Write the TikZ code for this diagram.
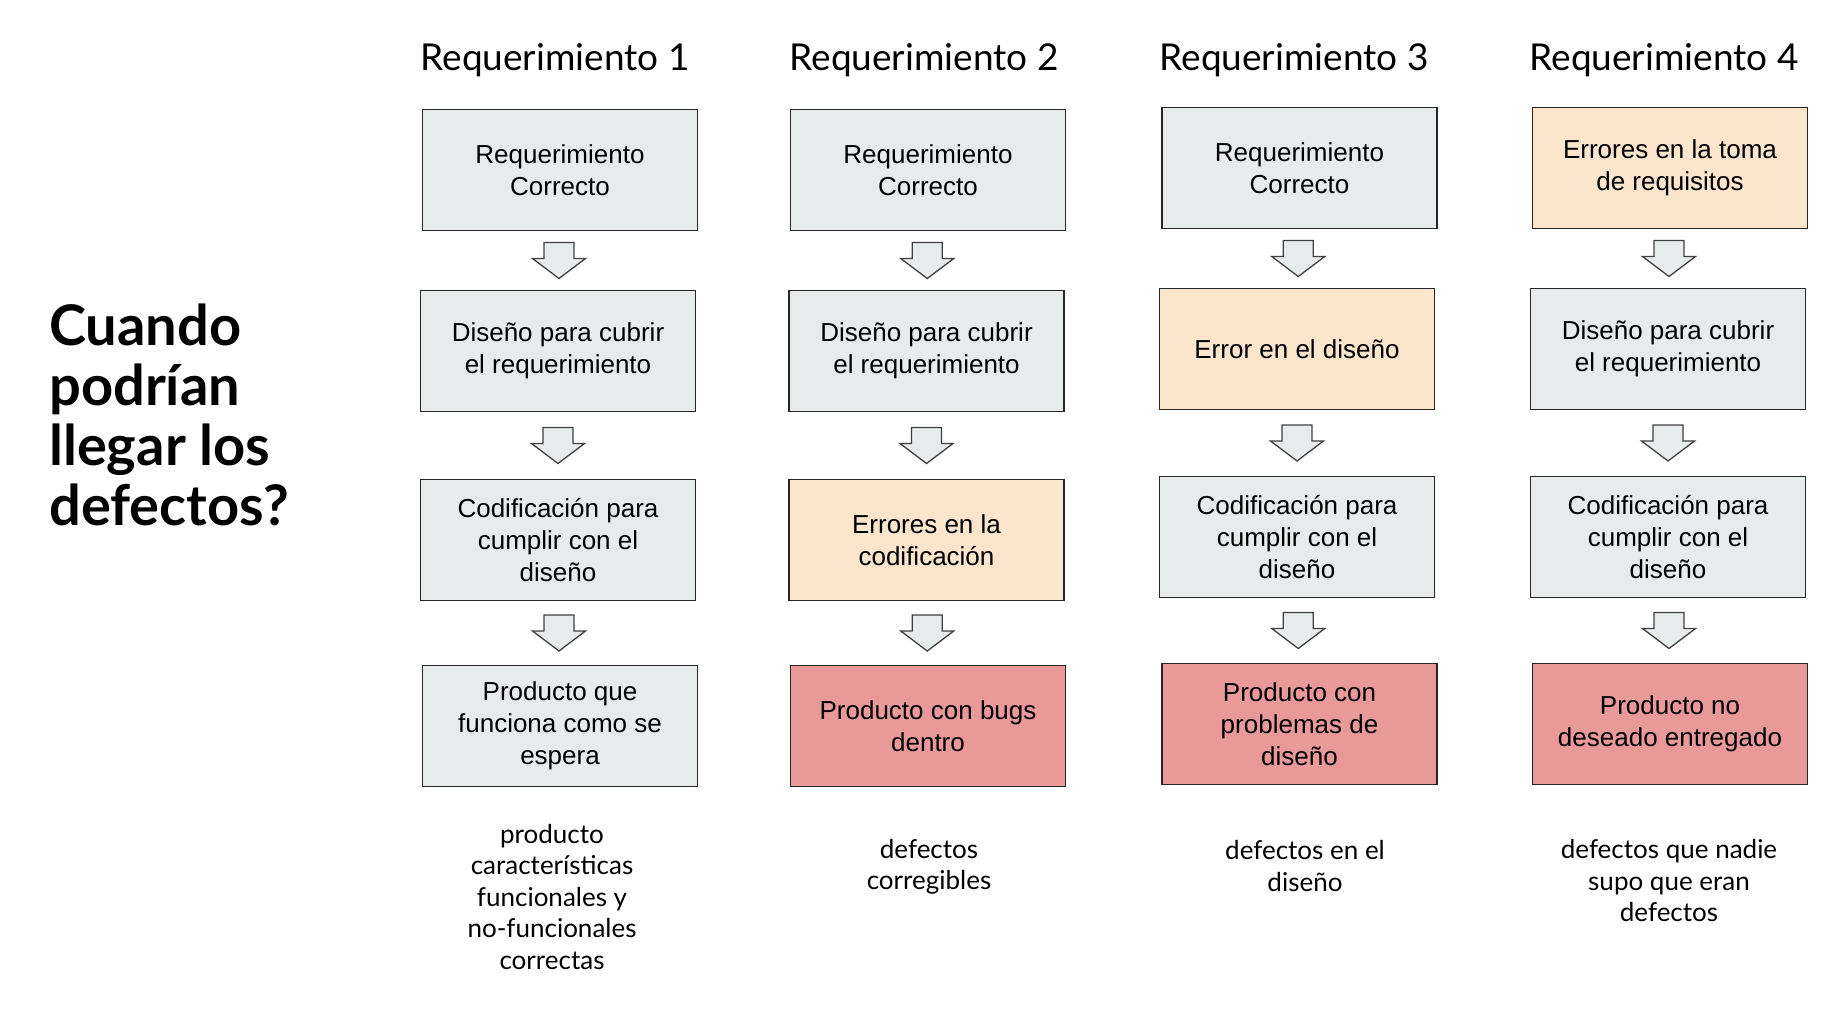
\documentclass[tikz,border=0pt]{standalone}
\usepackage{fontspec}
\setmainfont{Lato}
\newfontfamily\arialfont{Liberation Sans}
\usetikzlibrary{calc}

\definecolor{cajagris}{HTML}{E8EBEC}
\definecolor{cajanaranja}{HTML}{FCE5CD}
\definecolor{cajaroja}{HTML}{EA9999}

% flecha de bloque entre dos cajas
\newcommand{\flecha}[2]{%
  \begin{scope}[shift={($(#1.south)!0.5!(#2.north)$)}]
    \draw[bloque] (-15,-18) -- (15,-18) -- (15,-2) -- (26.5,-2) -- (0,18)
      -- (-26.5,-2) -- (-15,-2) -- cycle;
  \end{scope}}

\begin{document}
\begin{tikzpicture}[x=1pt, y=-1pt,
    caja/.style={draw=black!85, line width=1.5pt, minimum width=275pt,
      minimum height=121pt, inner sep=0pt, align=center,
      font=\arialfont\fontsize{26}{32}\selectfont},
    gris/.style={caja, fill=cajagris},
    naranja/.style={caja, fill=cajanaranja},
    roja/.style={caja, fill=cajaroja},
    bloque/.style={line width=1.3pt, draw=black!75, fill=cajagris, line join=miter},
    encabezado/.style={anchor=base, inner sep=0pt, font=\fontsize{37}{44}\selectfont},
    nota/.style={align=center, inner sep=0pt, font=\fontsize{26}{31.5}\selectfont}]

  \path[use as bounding box, fill=white] (0,0) rectangle (1830,1013);

  \node[anchor=west, align=left, inner sep=0pt,
    font=\bfseries\fontsize{56}{60}\selectfont] (pregunta) at (49,415)
    {Cuando\\podrían\\llegar los\\defectos?};

  % Requerimiento 1
  \node[encabezado] (t1) at (555,70) {Requerimiento 1};
  \node[gris] (a1) at (560,170) {Requerimiento\\Correcto};
  \node[gris] (a2) at (558,351) {Diseño para cubrir\\el requerimiento};
  \node[gris] (a3) at (558,540) {Codificación para\\cumplir con el\\diseño};
  \node[gris] (a4) at (560,726) {Producto que\\funciona como se\\espera};
  \node[nota] (n1) at (552,897) {producto\\características\\funcionales y\\no-funcionales\\correctas};

  % Requerimiento 2
  \node[encabezado] (t2) at (924,70) {Requerimiento 2};
  \node[gris] (b1) at (928,170) {Requerimiento\\Correcto};
  \node[gris] (b2) at (926.5,351) {Diseño para cubrir\\el requerimiento};
  \node[naranja] (b3) at (926.5,540) {Errores en la\\codificación};
  \node[roja] (b4) at (928,726) {Producto con bugs\\dentro};
  \node[nota] (n2) at (929,867) {defectos\\corregibles};

  % Requerimiento 3
  \node[encabezado] (t3) at (1294,70) {Requerimiento 3};
  \node[gris] (c1) at (1299.5,168) {Requerimiento\\Correcto};
  \node[naranja] (c2) at (1297,349) {Error en el diseño};
  \node[gris] (c3) at (1297,537) {Codificación para\\cumplir con el\\diseño};
  \node[roja] (c4) at (1299.5,724) {Producto con\\problemas de\\diseño};
  \node[nota] (n3) at (1305,866) {defectos en el\\diseño};

  % Requerimiento 4
  \node[encabezado] (t4) at (1664,70) {Requerimiento 4};
  \node[naranja] (d1) at (1670,168) {Errores en la toma\\de requisitos};
  \node[gris] (d2) at (1668,349) {Diseño para cubrir\\el requerimiento};
  \node[gris] (d3) at (1668,537) {Codificación para\\cumplir con el\\diseño};
  \node[roja] (d4) at (1670,724) {Producto no\\deseado entregado};
  \node[nota] (n4) at (1669,881) {defectos que nadie\\supo que eran\\defectos};

  \foreach \c in {a,b,c,d} {
    \flecha{\c1}{\c2}
    \flecha{\c2}{\c3}
    \flecha{\c3}{\c4}
  }
\end{tikzpicture}
\end{document}
